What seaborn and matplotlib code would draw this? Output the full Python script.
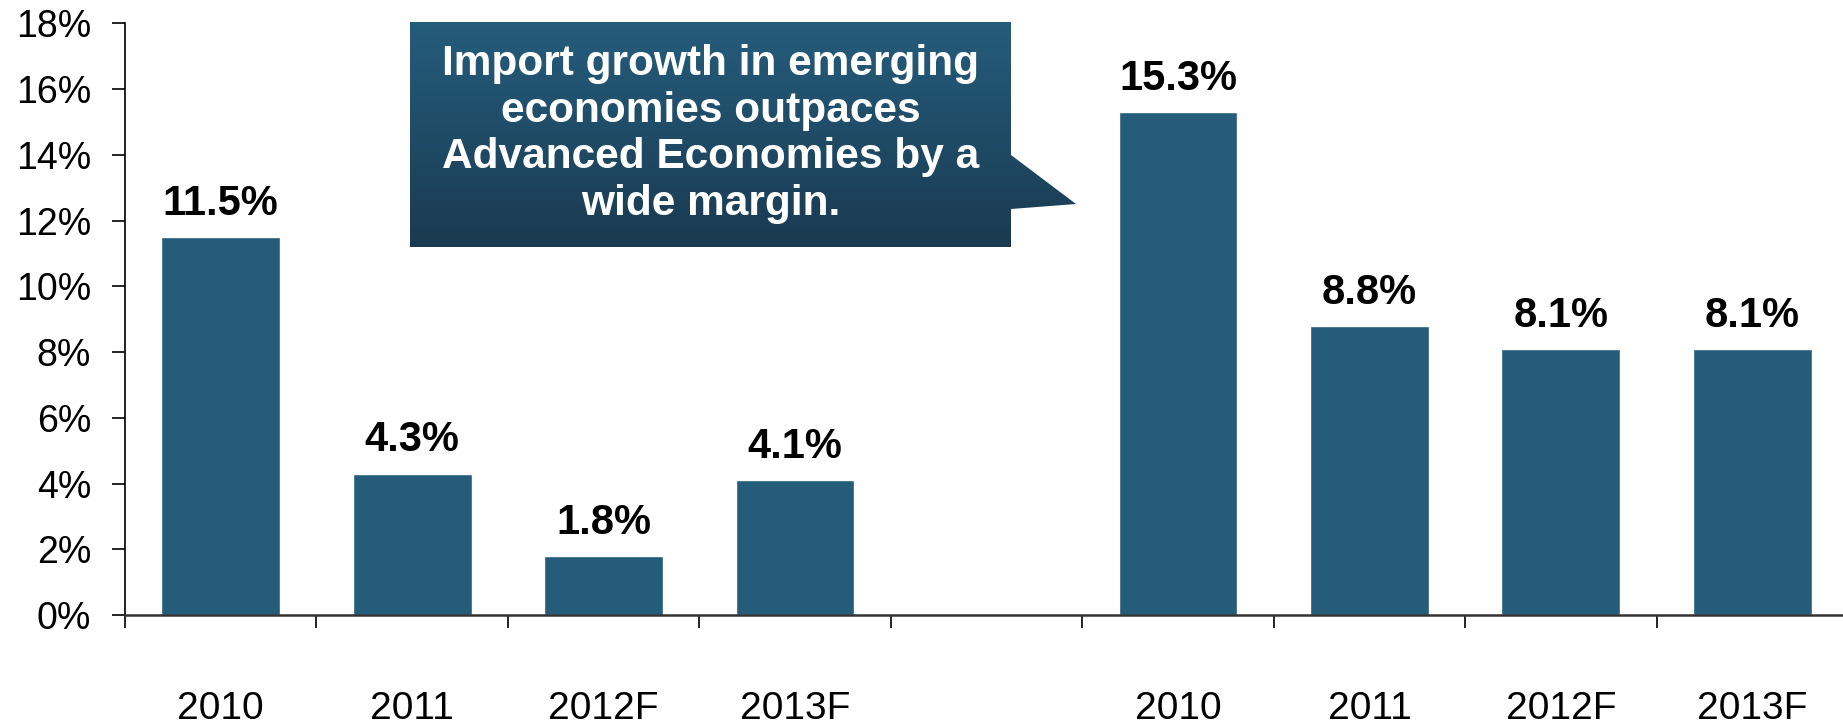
import numpy as np
import pandas as pd
import matplotlib
matplotlib.use("Agg")
import matplotlib.pyplot as plt
import seaborn as sns
from matplotlib.ticker import PercentFormatter, FixedLocator, NullFormatter
from matplotlib.colors import LinearSegmentedColormap
from matplotlib.patches import Polygon

# Annual import growth (%), two country groups side by side
years = ["2010", "2011", "2012F", "2013F"]
advanced_growth = [11.5, 4.3, 1.8, 4.1]
emerging_growth = [15.3, 8.8, 8.1, 8.1]
callout_text = ("Import growth in emerging\neconomies outpaces\n"
                "Advanced Economies by a\nwide margin.")

bar_color = "#245C7A"
box_top, box_bottom = "#255D7C", "#1A3A51"

sns.set_theme(style="white")
plt.rcParams["font.family"] = ["Liberation Sans", "DejaVu Sans"]

# slots 0-3 for the first group, slot 4 left empty, slots 5-8 for the second
positions = list(range(4)) + list(range(5, 9))
df = pd.DataFrame({
    "pos": positions,
    "growth": advanced_growth + emerging_growth,
    "label": years + years,
})

W, H, DPI = 1843, 724, 100
fig = plt.figure(figsize=(W / DPI, H / DPI), dpi=DPI)
ax = fig.add_axes([125 / W, 109 / H, (1848 - 125) / W, 591.7 / H])

sns.barplot(data=df, x="pos", y="growth", native_scale=True, width=0.62,
            color=bar_color, saturation=1, ax=ax, zorder=2)

ax.set_xlim(-0.5, 8.5)
ax.set_ylim(0, 18)
ax.set_xlabel("")
ax.set_ylabel("")

# y axis: percent ticks every 2
ax.yaxis.set_major_locator(FixedLocator(np.arange(0, 19, 2)))
ax.yaxis.set_major_formatter(PercentFormatter(decimals=0))
ax.tick_params(axis="y", which="major", direction="out", length=9.4, width=1.2,
               color="black", pad=15, labelsize=27, labelcolor="black", left=True)

# x axis: tick marks on slot boundaries, labels centred under bars
ax.xaxis.set_major_locator(FixedLocator(np.arange(-0.5, 9, 1.0)))
ax.xaxis.set_major_formatter(NullFormatter())
ax.set_xticks(df["pos"].tolist(), minor=True)
ax.set_xticklabels(df["label"].tolist(), minor=True)
ax.tick_params(axis="x", which="major", direction="out", length=9.4, width=1.2,
               color="black", bottom=True)
ax.tick_params(axis="x", which="minor", length=0, pad=55, labelsize=28,
               labelcolor="black", bottom=True)

for side in ("top", "right"):
    ax.spines[side].set_visible(False)
ax.spines["left"].set_color("black")
ax.spines["left"].set_linewidth(1.2)
ax.spines["bottom"].set_color("#333333")
ax.spines["bottom"].set_linewidth(1.8)
ax.spines["bottom"].set_zorder(3)

# value labels above each bar
for p, v in zip(df["pos"], df["growth"]):
    ax.annotate(f"{v:.1f}%", xy=(p, v), xytext=(0, 16), textcoords="offset points",
                ha="center", va="baseline", fontsize=30, fontweight="bold",
                color="black")

# callout box with pointer, in pixel coordinates over the whole figure
ov = fig.add_axes([0, 0, 1, 1], zorder=5)
ov.set_xlim(0, W)
ov.set_ylim(H, 0)
ov.axis("off")
ov.patch.set_alpha(0)

outline = [(410, 22), (1011, 22), (1011, 155), (1076, 204), (1011, 209),
           (1011, 247), (410, 247)]
shape = Polygon(outline, closed=True, facecolor="none", edgecolor="none")
ov.add_patch(shape)
cmap = LinearSegmentedColormap.from_list("callout", [box_top, box_bottom])
grad = ov.imshow(np.linspace(0, 1, 256).reshape(-1, 1), cmap=cmap, aspect="auto",
                 extent=(410, 1076, 247, 22), interpolation="bilinear")
grad.set_clip_path(shape)
ov.set_xlim(0, W)
ov.set_ylim(H, 0)

ov.text(710.5, 134, callout_text, ha="center", va="center", color="white",
        fontsize=30.5, fontweight="bold", linespacing=1.21, multialignment="center")

fig.savefig("out.png", dpi=DPI)
